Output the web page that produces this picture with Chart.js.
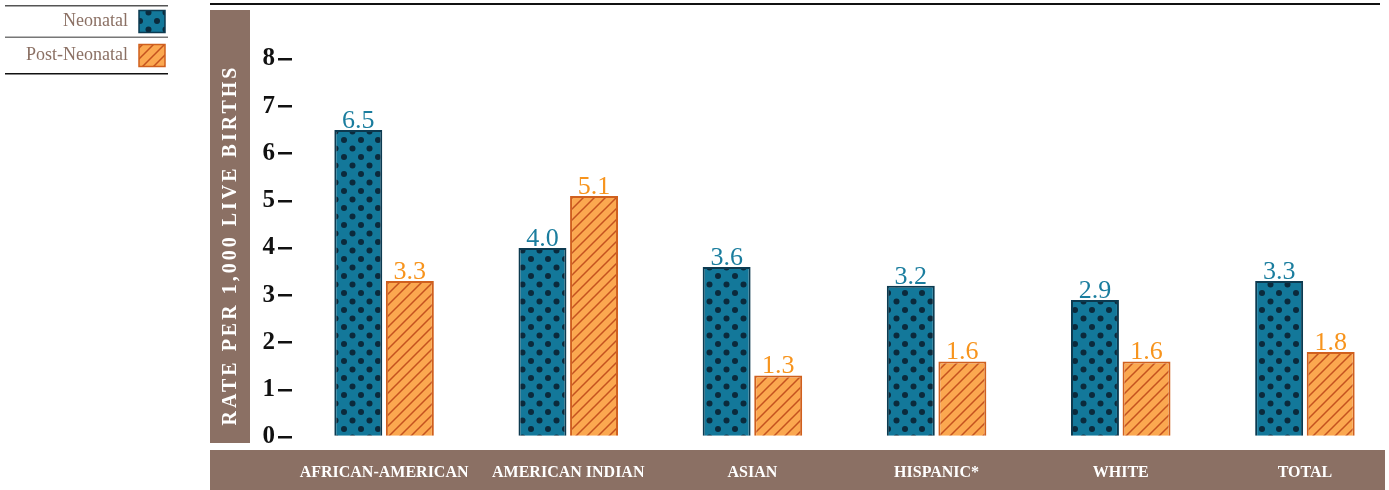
<!DOCTYPE html>
<html>
<head>
<meta charset="utf-8">
<script src="https://cdn.jsdelivr.net/npm/chart.js@4.4.1/dist/chart.umd.min.js"></script>
<style>
  html, body { margin: 0; padding: 0; background: #fff; overflow: hidden; }
  #wrap { position: relative; width: 1397px; height: 490px; }
</style>
</head>
<body>
<div id="wrap"><canvas id="chart"></canvas></div>
<script>
// Data
const categories = ['AFRICAN-AMERICAN', 'AMERICAN INDIAN', 'ASIAN', 'HISPANIC*', 'WHITE', 'TOTAL'];
const neonatal = [6.5, 4.0, 3.6, 3.2, 2.9, 3.3];
const postNeonatal = [3.3, 5.1, 1.3, 1.6, 1.6, 1.8];
const yTicks = [0, 1, 2, 3, 4, 5, 6, 7, 8];
const seriesNames = ['Neonatal', 'Post-Neonatal'];
const yTitle = 'RATE PER 1,000 LIVE BIRTHS';

const SERIF = '"Liberation Serif", "DejaVu Serif", serif';
const BROWN = '#8b7064';

// Patterns
function dotPattern() {
    const c = document.createElement('canvas');
    c.width = 17; c.height = 17;
    const x = c.getContext('2d');
    x.fillStyle = '#13789a';
    x.fillRect(0, 0, 17, 17);
    x.fillStyle = '#0b2a3c';
    [[4, 4], [12.5, 12.5]].forEach(p => {
        x.beginPath();
        x.arc(p[0], p[1], 3, 0, Math.PI * 2);
        x.fill();
    });
    return x.createPattern(c, 'repeat');
}

function hatchPattern() {
    const s = 11;
    const c = document.createElement('canvas');
    c.width = s; c.height = s;
    const x = c.getContext('2d');
    x.fillStyle = '#fba850';
    x.fillRect(0, 0, s, s);
    x.strokeStyle = '#c4521f';
    x.lineWidth = 1.5;
    x.beginPath();
    x.moveTo(0, s); x.lineTo(s, 0);
    x.moveTo(-s / 2, s / 2); x.lineTo(s / 2, -s / 2);
    x.moveTo(s / 2, s * 1.5); x.lineTo(s * 1.5, s / 2);
    x.stroke();
    return x.createPattern(c, 'repeat');
}

// Frame, bands, legend
const framePlugin = {
    id: 'frame',
    beforeDraw(chart) {
        const ctx = chart.ctx;
        ctx.save();
        // top rule
        ctx.fillStyle = '#111';
        ctx.fillRect(210, 3, 1170, 2);
        // y title band
        ctx.fillStyle = BROWN;
        ctx.fillRect(210, 10, 40, 433);
        // bottom band
        ctx.fillRect(210, 450, 1175, 40);
        // y title
        ctx.translate(231, 245);
        ctx.rotate(-Math.PI / 2);
        ctx.fillStyle = '#fff';
        ctx.font = 'bold 20px ' + SERIF;
        ctx.letterSpacing = '3px';
        ctx.textAlign = 'center';
        ctx.textBaseline = 'middle';
        ctx.fillText(yTitle, 0, 0);
        ctx.restore();

        // legend
        ctx.save();
        ctx.fillStyle = '#555';
        ctx.fillRect(5, 5, 163, 1.5);
        ctx.fillStyle = '#777';
        ctx.fillRect(5, 36.5, 163, 1.5);
        ctx.fillStyle = '#111';
        ctx.fillRect(5, 73, 163, 1.5);
        ctx.font = '18px ' + SERIF;
        ctx.fillStyle = BROWN;
        ctx.textAlign = 'right';
        ctx.textBaseline = 'middle';
        const fills = [chart.data.datasets[0].backgroundColor, chart.data.datasets[1].backgroundColor];
        const borders = ['#0c3a50', '#d0601e'];
        [21.5, 55.5].forEach((y, i) => {
            ctx.fillText(seriesNames[i], 128, y);
            ctx.fillStyle = fills[i];
            ctx.fillRect(139, y - 11, 26, 22);
            ctx.strokeStyle = borders[i];
            ctx.lineWidth = 1.5;
            ctx.strokeRect(139, y - 11, 26, 22);
            ctx.fillStyle = BROWN;
        });
        ctx.restore();
    },
    afterDatasetsDraw(chart) {
        const ctx = chart.ctx;
        ctx.save();
        ctx.font = '26px ' + SERIF;
        ctx.textAlign = 'center';
        ctx.textBaseline = 'bottom';
        const colors = ['#1a7d9e', '#f7941d'];
        chart.data.datasets.forEach((ds, i) => {
            chart.getDatasetMeta(i).data.forEach((bar, j) => {
                ctx.fillStyle = colors[i];
                ctx.fillText(ds.data[j].toFixed(1), bar.x, bar.y + 4);
            });
        });
        ctx.restore();
    }
};

const ctx = document.getElementById('chart').getContext('2d');
new Chart(ctx, {
    type: 'bar',
    data: {
        labels: categories,
        datasets: [{
            label: seriesNames[0],
            data: neonatal,
            backgroundColor: dotPattern(),
            borderColor: '#0c3a50',
            borderWidth: 2
        }, {
            label: seriesNames[1],
            data: postNeonatal,
            backgroundColor: hatchPattern(),
            borderColor: '#d0601e',
            borderWidth: 2
        }]
    },
    options: {
        responsive: true,
        maintainAspectRatio: false,
        animation: false,
        layout: { padding: { top: 59, left: 0, right: 0, bottom: 0 } },
        categoryPercentage: 0.56,
        barPercentage: 0.93,
        plugins: {
            legend: { display: false },
            tooltip: { enabled: false }
        },
        scales: {
            x: {
                grid: { display: false },
                border: { display: false },
                ticks: {
                    color: '#fff',
                    padding: 18,
                    maxRotation: 0,
                    font: { family: SERIF, size: 16, weight: 'bold' }
                },
                afterFit(scale) { scale.height = 53; }
            },
            y: {
                min: 0,
                max: 8,
                afterBuildTicks(scale) { scale.ticks = yTicks.map(v => ({ value: v })); },
                border: { display: false },
                grid: {
                    drawOnChartArea: false,
                    drawTicks: true,
                    tickLength: 14,
                    tickColor: '#111',
                    lineWidth: 2.5
                },
                ticks: {
                    color: '#111',
                    padding: 3,
                    font: { family: SERIF, size: 25, weight: 'bold' }
                },
                afterFit(scale) { scale.width = 292; }
            }
        }
    },
    plugins: [framePlugin]
});
</script>
</body>
</html>
